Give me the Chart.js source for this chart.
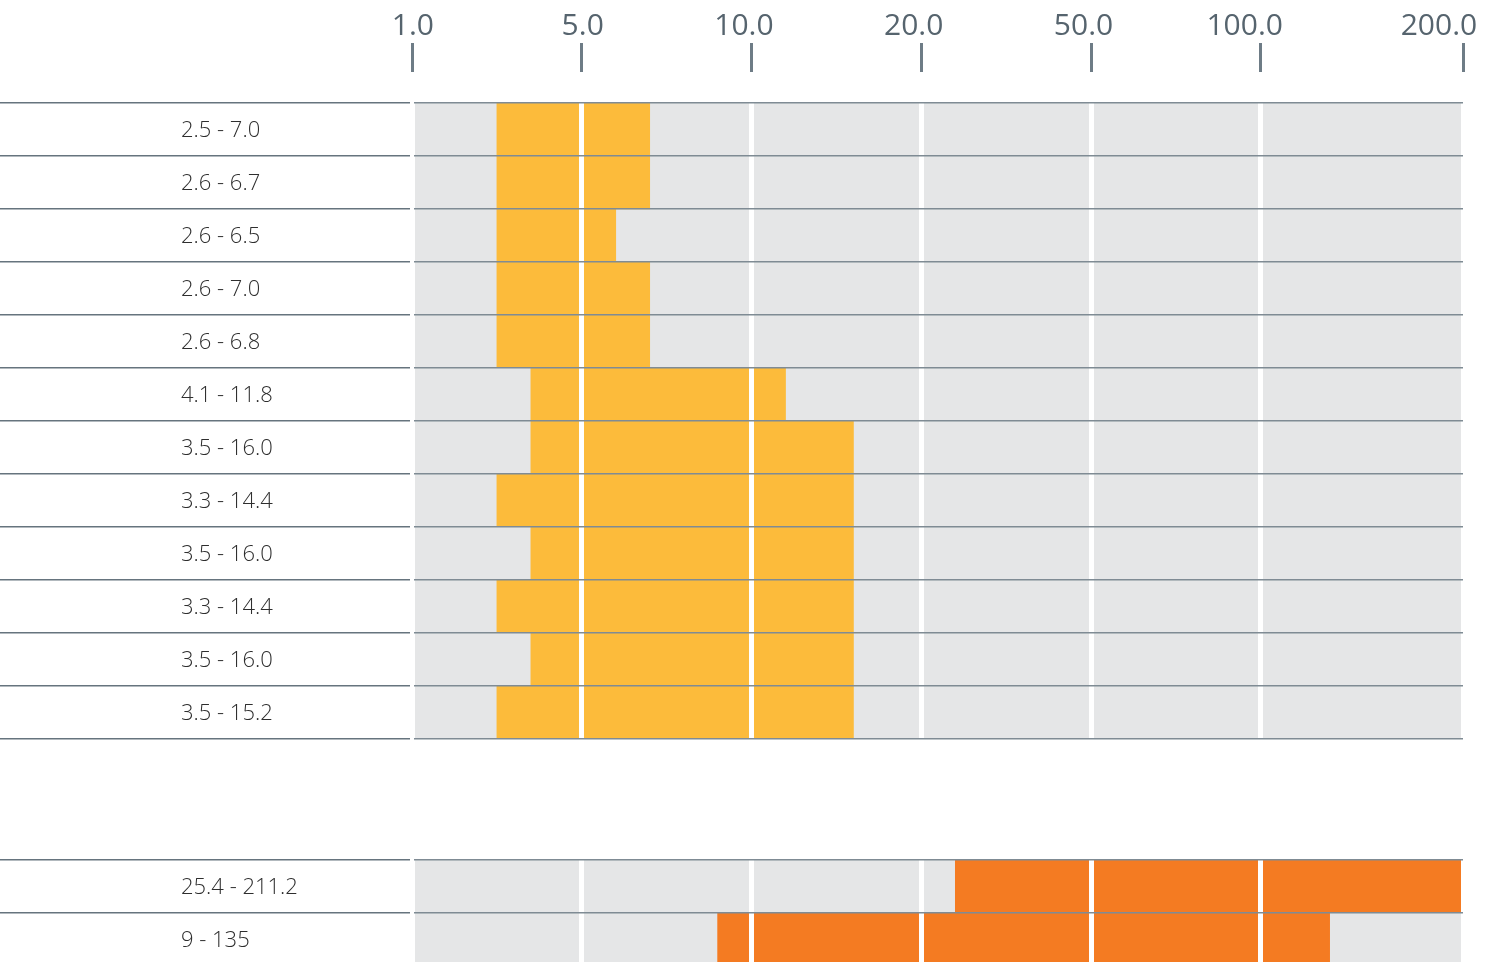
<!DOCTYPE html>
<html><head><meta charset="utf-8">
<script src="https://cdn.jsdelivr.net/npm/chart.js@4.4.1/dist/chart.umd.min.js"></script>
<style>
html,body{margin:0;padding:0;background:#fff;overflow:hidden;width:1499px;height:962px}
canvas{position:absolute;left:0}
#c1{top:0}
#c2{top:840px}
</style></head><body>
<canvas id="c1" width="1499" height="760"></canvas>
<canvas id="c2" width="1499" height="140"></canvas>
<script>
// Axis tick values and their labels
const tickValues = [1, 5, 10, 20, 50, 100, 200];
const tickLabels = ['1.0', '5.0', '10.0', '20.0', '50.0', '100.0', '200.0'];

// Upper group (yellow)
const groupALabels = ['2.5 - 7.0', '2.6 - 6.7', '2.6 - 6.5', '2.6 - 7.0', '2.6 - 6.8', '4.1 - 11.8',
                      '3.5 - 16.0', '3.3 - 14.4', '3.5 - 16.0', '3.3 - 14.4', '3.5 - 16.0', '3.5 - 15.2'];
const groupALow  = [3.0, 3.0, 3.0, 3.0, 3.0, 3.8, 3.8, 3.0, 3.8, 3.0, 3.8, 3.0];
const groupAHigh = [7.0, 7.0, 6.0, 7.0, 7.0, 12.0, 16.0, 16.0, 16.0, 16.0, 16.0, 16.0];

// Lower group (orange)
const groupBLabels = ['25.4 - 211.2', '9 - 135'];
const groupBLow  = [26, 9];
const groupBHigh = [211.2, 134];

// Piecewise scale: each tick interval gets its own stretch of the axis
const axisStops = [0, 1, 2, 3, 4, 5, 6.19];
function toAxis(v) {
  let i = 0;
  while (i < tickValues.length - 2 && v > tickValues[i + 1]) i++;
  const f = (v - tickValues[i]) / (tickValues[i + 1] - tickValues[i]);
  return axisStops[i] + f * (axisStops[i + 1] - axisStops[i]);
}

const plotBg = {
  id: 'plotBg',
  beforeDraw(chart) {
    const {ctx, chartArea: a} = chart;
    ctx.save();
    ctx.fillStyle = '#e5e6e7';
    ctx.fillRect(a.left, a.top, a.right - a.left, a.bottom - a.top);
    ctx.restore();
  }
};

const setTicks = s => { s.ticks = axisStops.map(v => ({value: v})); };

function makeChart(canvas, labels, low, high, color, withAxis, pad) {
  const scales = {
    x: {
      type: 'linear', position: 'top', min: axisStops[0], max: axisStops[axisStops.length - 1],
      weight: 0,
      afterBuildTicks: setTicks,
      ticks: {display: false},
      grid: {color: '#ffffff', lineWidth: 5, drawTicks: false, tickLength: 0, z: 1},
      border: {display: false},
      afterFit: s => { s.height = withAxis ? 31 : 0; }
    },
    y: {
      type: 'category', position: 'left', offset: true,
      grid: {offset: true, color: '#7f8b94', tickColor: '#66747e', lineWidth: 1.5, tickLength: 412, drawTicks: true, z: 2},
      border: {display: true, color: '#ffffff', width: 4, z: 2},
      ticks: {crossAlign: 'far', font: {family: 'Open Sans', size: 22, weight: 300}, color: '#2e2e2e',
              padding: 0, autoSkip: false, labelOffset: 1.5, z: 2},
      afterFit: s => { s.width = 231; }
    }
  };
  if (withAxis) {
    scales.x2 = {
      type: 'linear', position: 'top', min: axisStops[0], max: axisStops[axisStops.length - 1],
      weight: 1,
      afterBuildTicks: setTicks,
      ticks: {display: true, font: {family: 'Open Sans', size: 30}, color: '#56646e', align: 'end', labelOffset: 22,
              padding: -1, autoSkip: false, maxRotation: 0,
              callback: (v, i) => i === tickLabels.length - 1 ? tickLabels[i] + ' ' : tickLabels[i]},
      grid: {drawOnChartArea: false, drawTicks: true, tickLength: 29, tickColor: '#6e7c86', tickWidth: 3},
      border: {display: false},
      afterFit: s => { s.height = 72; }
    };
  }
  return new Chart(canvas, {
    type: 'bar',
    data: {
      labels: labels,
      datasets: [{
        data: low.map((l, i) => [toAxis(l), toAxis(high[i])]),
        backgroundColor: color,
        borderWidth: 0,
        borderSkipped: false,
        barPercentage: 1,
        categoryPercentage: 1
      }]
    },
    options: {
      indexAxis: 'y',
      responsive: false,
      animation: false,
      devicePixelRatio: 1,
      layout: {padding: pad},
      plugins: {legend: {display: false}, tooltip: {enabled: false}},
      scales: scales
    },
    plugins: [plotBg]
  });
}

makeChart(document.getElementById('c1'), groupALabels, groupALow, groupAHigh, '#fcbb3b', true,
  {left: 181, right: 36, top: 0, bottom: 21.7});
makeChart(document.getElementById('c2'), groupBLabels, groupBLow, groupBHigh, '#f47b22', false,
  {left: 181, right: 36, top: 19.3, bottom: 14.7});
</script>
</body></html>
